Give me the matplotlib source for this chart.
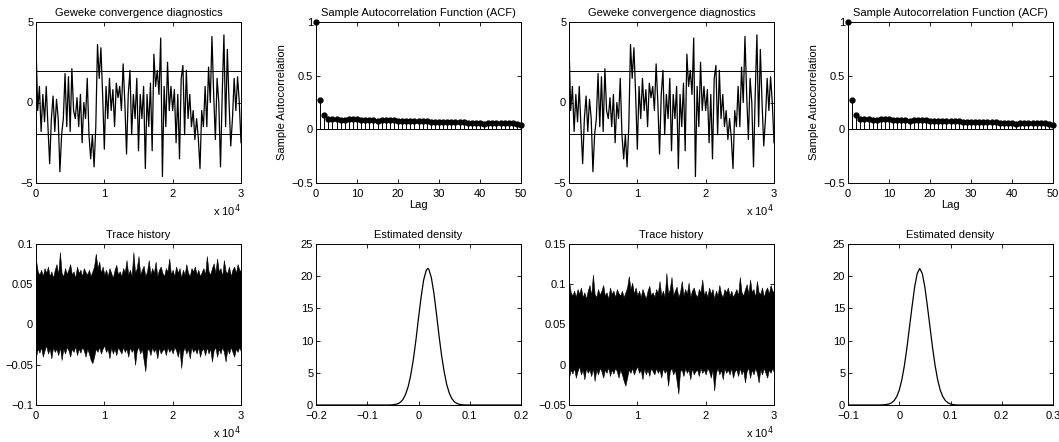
import numpy as np
import matplotlib
matplotlib.use("Agg")
import matplotlib.pyplot as plt

plt.rcParams['font.family'] = ['Liberation Sans', 'DejaVu Sans']
plt.rcParams['font.size'] = 8

# ---------------- data ----------------
geweke_x = list(range(0, 30001, 250))
geweke_z = [3.6, -0.5, 1.0, -1.8, 0.5, -1.2, 1.0, -1.5, -3.8, -1.0,
            0.4, -1.8, 0.2, -1.0, -4.3, -2.0, -1.0, 1.8, -1.5, 1.6,
            -1.8, 2.1, -0.5, -1.0, 0.3, -1.5, 0.5, -2.5, 0.0, -1.0,
            1.5, -2.0, -3.5, -2.0, -4.0, -1.5, 3.6, 1.5, 3.4, 0.5,
            -2.9, 1.0, -1.0, 1.5, -0.5, 0.8, -1.5, 1.2, 0.3, 1.0,
            -0.5, 2.4, 0.0, -3.2, 0.5, 2.0, -2.0, 0.5, -1.0, 1.5,
            -3.0, 0.5, -1.0, 1.0, -4.1, 0.5, -1.5, 1.2, -3.0, 3.0,
            1.0, 2.0, 0.5, 4.0, -4.6, 1.0, -1.5, 2.5, -0.5, 1.0,
            -0.5, 0.8, -2.5, 0.5, -3.5, 1.5, 2.3, -2.0, 2.0, -1.0,
            0.5, -1.5, -0.5, -2.3, -1.0, -2.2, -4.1, -0.5, -1.5, 1.0,
            -1.5, 2.2, 0.0, 4.1, 0.5, -2.3, 1.5, 0.0, -4.0, 0.5,
            4.2, -1.5, 3.3, 0.0, -2.7, -1.0, 1.5, -0.5, 1.6, 0.0,
            -2.5]
geweke_bound = 1.96

acf_lags = list(range(0, 51))
acf_vals = [1.0, 0.27, 0.13, 0.10, 0.10, 0.095, 0.09, 0.09, 0.095, 0.10,
            0.095, 0.09, 0.09, 0.09, 0.09, 0.075, 0.09, 0.09, 0.09, 0.085,
            0.08, 0.08, 0.075, 0.075, 0.08, 0.08, 0.08, 0.075, 0.07, 0.07,
            0.07, 0.07, 0.065, 0.065, 0.065, 0.065, 0.065, 0.06, 0.06, 0.06,
            0.055, 0.05, 0.055, 0.055, 0.06, 0.06, 0.06, 0.06, 0.055, 0.05,
            0.045]

trace_x = list(range(0, 30001, 250))
trace1_upper = [0.080, 0.066, 0.062, 0.068, 0.060, 0.070, 0.064, 0.072, 0.060, 0.066,
                0.058, 0.068, 0.075, 0.062, 0.090, 0.064, 0.060, 0.070, 0.063, 0.068,
                0.075, 0.062, 0.066, 0.058, 0.072, 0.064, 0.068, 0.060, 0.070, 0.065,
                0.062, 0.068, 0.060, 0.066, 0.072, 0.088, 0.070, 0.078, 0.064, 0.072,
                0.062, 0.068, 0.060, 0.070, 0.064, 0.058, 0.068, 0.074, 0.062, 0.066,
                0.060, 0.070, 0.065, 0.080, 0.062, 0.068, 0.060, 0.090, 0.064, 0.070,
                0.085, 0.062, 0.068, 0.073, 0.060, 0.066, 0.080, 0.062, 0.070, 0.064,
                0.078, 0.060, 0.068, 0.072, 0.064, 0.060, 0.070, 0.066, 0.082, 0.062,
                0.068, 0.060, 0.072, 0.064, 0.070, 0.058, 0.068, 0.062, 0.075, 0.064,
                0.060, 0.070, 0.066, 0.072, 0.062, 0.068, 0.060, 0.065, 0.070, 0.062,
                0.085, 0.066, 0.062, 0.070, 0.076, 0.064, 0.082, 0.066, 0.070, 0.060,
                0.080, 0.066, 0.064, 0.072, 0.060, 0.068, 0.072, 0.064, 0.075, 0.068,
                0.066]
trace1_lower = [-0.040, -0.030, -0.035, -0.028, -0.040, -0.032, -0.026, -0.036, -0.030, -0.042,
                -0.028, -0.034, -0.030, -0.038, -0.028, -0.044, -0.030, -0.036, -0.028, -0.032,
                -0.040, -0.030, -0.034, -0.027, -0.038, -0.030, -0.035, -0.028, -0.032, -0.040,
                -0.030, -0.036, -0.044, -0.048, -0.040, -0.030, -0.034, -0.028, -0.036, -0.030,
                -0.026, -0.034, -0.030, -0.042, -0.028, -0.036, -0.030, -0.038, -0.028, -0.032,
                -0.036, -0.028, -0.034, -0.030, -0.040, -0.028, -0.034, -0.030, -0.050, -0.032,
                -0.028, -0.036, -0.030, -0.044, -0.058, -0.032, -0.030, -0.038, -0.028, -0.034,
                -0.030, -0.042, -0.028, -0.036, -0.032, -0.030, -0.038, -0.028, -0.034, -0.030,
                -0.036, -0.028, -0.032, -0.040, -0.030, -0.054, -0.034, -0.028, -0.036, -0.030,
                -0.042, -0.028, -0.034, -0.030, -0.036, -0.028, -0.040, -0.032, -0.030, -0.038,
                -0.028, -0.036, -0.030, -0.046, -0.032, -0.028, -0.040, -0.030, -0.036, -0.028,
                -0.034, -0.046, -0.030, -0.036, -0.028, -0.034, -0.040, -0.030, -0.034, -0.028,
                -0.034]
trace2_upper = [0.104, 0.090, 0.086, 0.092, 0.084, 0.094, 0.088, 0.096, 0.084, 0.090,
                0.082, 0.092, 0.099, 0.086, 0.112, 0.088, 0.084, 0.094, 0.087, 0.092,
                0.099, 0.086, 0.090, 0.082, 0.096, 0.088, 0.092, 0.084, 0.094, 0.089,
                0.086, 0.092, 0.084, 0.090, 0.096, 0.110, 0.094, 0.102, 0.088, 0.096,
                0.086, 0.092, 0.084, 0.094, 0.088, 0.082, 0.092, 0.098, 0.086, 0.090,
                0.084, 0.094, 0.089, 0.104, 0.086, 0.092, 0.084, 0.114, 0.088, 0.094,
                0.109, 0.086, 0.092, 0.097, 0.084, 0.090, 0.104, 0.086, 0.094, 0.088,
                0.102, 0.084, 0.092, 0.096, 0.088, 0.084, 0.094, 0.090, 0.106, 0.086,
                0.092, 0.084, 0.096, 0.088, 0.094, 0.082, 0.092, 0.086, 0.099, 0.088,
                0.084, 0.094, 0.090, 0.096, 0.086, 0.092, 0.084, 0.089, 0.094, 0.086,
                0.109, 0.090, 0.086, 0.094, 0.100, 0.088, 0.106, 0.090, 0.094, 0.084,
                0.104, 0.090, 0.088, 0.096, 0.084, 0.092, 0.096, 0.088, 0.099, 0.092,
                0.090]
trace2_lower = [-0.016, -0.006, -0.011, -0.004, -0.016, -0.008, -0.002, -0.012, -0.006, -0.018,
                -0.004, -0.010, -0.006, -0.014, -0.004, -0.020, -0.006, -0.012, -0.004, -0.008,
                -0.016, -0.006, -0.010, -0.003, -0.014, -0.006, -0.011, -0.004, -0.008, -0.016,
                -0.006, -0.012, -0.020, -0.026, -0.016, -0.006, -0.010, -0.004, -0.012, -0.006,
                -0.002, -0.010, -0.006, -0.018, -0.004, -0.012, -0.006, -0.014, -0.004, -0.008,
                -0.012, -0.004, -0.010, -0.006, -0.016, -0.004, -0.010, -0.006, -0.026, -0.008,
                -0.004, -0.012, -0.006, -0.020, -0.036, -0.008, -0.006, -0.014, -0.004, -0.010,
                -0.006, -0.018, -0.004, -0.012, -0.008, -0.006, -0.014, -0.004, -0.010, -0.006,
                -0.012, -0.004, -0.008, -0.016, -0.006, -0.032, -0.010, -0.004, -0.012, -0.006,
                -0.018, -0.004, -0.010, -0.006, -0.012, -0.004, -0.016, -0.008, -0.006, -0.014,
                -0.004, -0.012, -0.006, -0.022, -0.008, -0.004, -0.016, -0.006, -0.012, -0.004,
                -0.010, -0.022, -0.006, -0.012, -0.004, -0.010, -0.016, -0.006, -0.010, -0.004,
                -0.010]

dens1_x = [-0.2, -0.06, -0.055, -0.05, -0.045, -0.04, -0.035, -0.03, -0.025, -0.02,
           -0.015, -0.01, -0.005, 0.0, 0.005, 0.01, 0.015, 0.018, 0.02, 0.025,
           0.03, 0.035, 0.04, 0.045, 0.05, 0.055, 0.06, 0.065, 0.07, 0.075,
           0.08, 0.085, 0.09, 0.1, 0.2]
dens1_y = [0.0, 0.0, 0.01, 0.04, 0.1, 0.2, 0.45, 0.9, 1.7, 2.9,
           4.7, 7.1, 10.1, 13.5, 16.7, 19.4, 20.9, 21.2, 21.1, 19.8,
           17.4, 14.2, 10.8, 7.7, 5.2, 3.2, 1.85, 1.0, 0.5, 0.23,
           0.1, 0.04, 0.01, 0.0, 0.0]
dens2_x = [-0.1, -0.04, -0.035, -0.03, -0.025, -0.02, -0.015, -0.01, -0.005, 0.0,
           0.005, 0.01, 0.015, 0.02, 0.025, 0.03, 0.035, 0.04, 0.045, 0.05,
           0.055, 0.06, 0.065, 0.07, 0.075, 0.08, 0.085, 0.09, 0.095, 0.1,
           0.105, 0.11, 0.115, 0.3]
dens2_y = [0.0, 0.0, 0.01, 0.03, 0.08, 0.15, 0.35, 0.68, 1.3, 2.3,
           3.9, 6.1, 8.9, 12.1, 15.3, 18.3, 20.4, 21.2, 20.4, 18.3,
           15.3, 12.1, 8.9, 6.1, 3.9, 2.3, 1.3, 0.68, 0.35, 0.15,
           0.06, 0.02, 0.0, 0.0]

# ---------------- layout ----------------
W, H = 1059, 442
fig = plt.figure(figsize=(W / 100, H / 100), dpi=100)

col_left = [36, 316, 569, 848]
col_w = 205
row_top = [22, 244]
row_h = 161
FS = 8


def make_ax(r, c):
    l = col_left[c] / W
    b = 1 - (row_top[r] + row_h) / H
    ax = fig.add_axes([l, b, col_w / W, row_h / H])
    ax.tick_params(direction='in', length=3, width=0.6, labelsize=FS,
                   top=True, right=True)
    ax.tick_params(axis='x', pad=4)
    ax.tick_params(axis='y', pad=2)
    for s in ax.spines.values():
        s.set_linewidth(0.7)
    return ax


def x10(ax):
    ax.text(1.0, -0.17, r'x 10$^{4}$', transform=ax.transAxes,
            ha='right', va='center', fontsize=FS)


def geweke(ax):
    ax.plot(geweke_x, geweke_z, color='black', lw=0.9)
    ax.axhline(geweke_bound, color='black', lw=0.7)
    ax.axhline(-geweke_bound, color='black', lw=0.7)
    ax.set_xlim(0, 30000)
    ax.set_ylim(-5, 5)
    ax.set_xticks([0, 10000, 20000, 30000])
    ax.set_xticklabels(['0', '1', '2', '3'])
    ax.set_yticks([-5, 0, 5])
    ax.set_yticklabels(['\u22125', '0', '5'])
    ax.set_title('Geweke convergence diagnostics', fontsize=FS, pad=4)
    x10(ax)


def acf(ax):
    ax.vlines(acf_lags, 0, acf_vals, color='black', lw=0.7)
    ax.plot(acf_lags, acf_vals, 'o', color='black', ms=3.5, clip_on=False)
    ax.axhline(0, color='black', lw=0.7)
    ax.set_xlim(0, 50)
    ax.set_ylim(-0.5, 1)
    ax.set_xticks([0, 10, 20, 30, 40, 50])
    ax.set_yticks([-0.5, 0, 0.5, 1])
    ax.set_yticklabels(['\u22120.5', '0', '0.5', '1'])
    ax.set_xlabel('Lag', fontsize=FS, labelpad=1)
    ax.set_ylabel('Sample Autocorrelation', fontsize=FS, labelpad=3)
    ax.set_title('Sample Autocorrelation Function (ACF)', fontsize=FS, pad=4)


def trace(ax, up, lo, ylim, yticks, ylabels):
    ax.fill_between(trace_x, lo, up, color='black', lw=0.4, edgecolor='black')
    ax.set_xlim(0, 30000)
    ax.set_ylim(*ylim)
    ax.set_xticks([0, 10000, 20000, 30000])
    ax.set_xticklabels(['0', '1', '2', '3'])
    ax.set_yticks(yticks)
    ax.set_yticklabels(ylabels)
    ax.set_title('Trace history', fontsize=FS, pad=4)
    x10(ax)


def density(ax, dx, dy, xlim, xticks, xlabels):
    ax.plot(dx, dy, color='black', lw=0.9)
    ax.set_xlim(*xlim)
    ax.set_ylim(0, 25)
    ax.set_xticks(xticks)
    ax.set_xticklabels(xlabels)
    ax.set_yticks([0, 5, 10, 15, 20, 25])
    ax.set_title('Estimated density', fontsize=FS, pad=4)


geweke(make_ax(0, 0))
acf(make_ax(0, 1))
geweke(make_ax(0, 2))
acf(make_ax(0, 3))

trace(make_ax(1, 0), trace1_upper, trace1_lower, (-0.1, 0.1),
      [-0.1, -0.05, 0, 0.05, 0.1], ['\u22120.1', '\u22120.05', '0', '0.05', '0.1'])
density(make_ax(1, 1), dens1_x, dens1_y, (-0.2, 0.2),
        [-0.2, -0.1, 0, 0.1, 0.2], ['\u22120.2', '\u22120.1', '0', '0.1', '0.2'])
trace(make_ax(1, 2), trace2_upper, trace2_lower, (-0.05, 0.15),
      [-0.05, 0, 0.05, 0.1, 0.15], ['\u22120.05', '0', '0.05', '0.1', '0.15'])
density(make_ax(1, 3), dens2_x, dens2_y, (-0.1, 0.3),
        [-0.1, 0, 0.1, 0.2, 0.3], ['\u22120.1', '0', '0.1', '0.2', '0.3'])

fig.savefig('out.png', dpi=100)
